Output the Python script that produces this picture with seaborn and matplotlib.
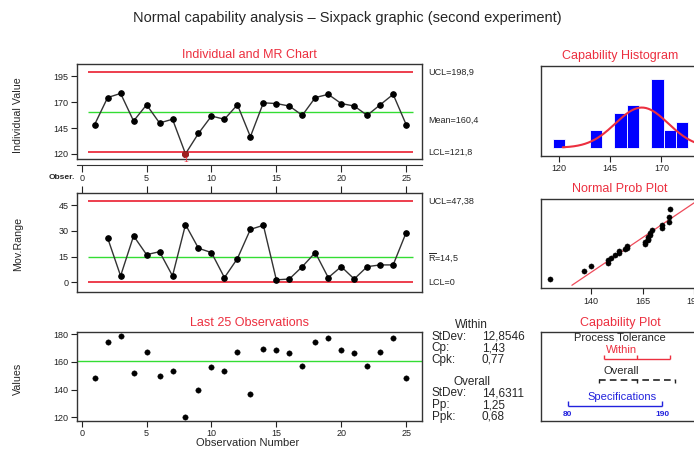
import numpy as np
import seaborn as sns
import matplotlib.pyplot as plt
from statistics import NormalDist

sns.set_style("ticks")
plt.rcParams['font.family'] = ['Liberation Sans', 'DejaVu Sans']
plt.rcParams['mathtext.fontset'] = 'custom'
plt.rcParams['mathtext.rm'] = 'Liberation Sans'
plt.rcParams['mathtext.bf'] = 'Liberation Sans:bold'

# --- data ---
obs = list(range(1, 26))
values = [148.4, 174.5, 178.5, 151.8, 167.5, 149.9, 153.5, 120.0, 139.8, 156.6,
          153.5, 167.5, 136.6, 169.4, 168.7, 166.3, 157.3, 174.5, 177.6, 168.7,
          166.3, 157.3, 167.5, 177.6, 148.4]
mr_obs = list(range(2, 26))
mr_values = [25.8, 3.7, 27.0, 16.1, 17.8, 3.7, 33.6, 19.8, 17.3, 2.7, 13.8, 30.8,
             33.2, 1.4, 1.9, 9.1, 17.3, 2.7, 9.1, 1.9, 9.1, 10.1, 10.1, 28.9]

mean, ucl, lcl = 160.4, 198.9, 121.8
mr_ucl, mr_bar, mr_lcl = 47.38, 14.5, 0.0
sd_within, sd_overall = 12.8546, 14.6311
lsl, usl = 80, 190
hist_bins = list(range(117, 184, 6))

within_stats = [("StDev:", "12,8546"), ("Cp:", "1,43"), ("Cpk:", "0,77")]
overall_stats = [("StDev:", "14,6311"), ("Pp:", "1,25"), ("Ppk:", "0,68")]

RED = '#ec2f3f'
GREEN = '#33dd33'
BLUE = '#0000ff'
W, H = 694, 450

fig = plt.figure(figsize=(W / 100, H / 100), dpi=100)


def box(l, t, r, b):
    ax = fig.add_axes([l / W, 1 - b / H, (r - l) / W, (b - t) / H])
    for s in ax.spines.values():
        s.set_visible(True)
        s.set_color('#333333')
        s.set_linewidth(1.0)
    ax.tick_params(labelsize=6.5, length=4, width=0.8, pad=2, colors='#222222')
    return ax


def ftext(x, y, s, **kw):
    fig.text(x / W, 1 - y / H, s, va='center', **kw)


ftext(347, 18, "Normal capability analysis \u2013 Sixpack graphic (second experiment)",
      ha='center', fontsize=10.5)

# Individual chart
ax1 = box(77, 64, 421.7, 159)
ax1.hlines([ucl, lcl], 0.5, 25.5, color=RED, lw=1.3)
ax1.hlines(mean, 0.5, 25.5, color=GREEN, lw=1)
sns.lineplot(x=obs, y=values, ax=ax1, color='#333333', lw=1, marker='o',
             markersize=4, markeredgecolor='black', markerfacecolor='black')
ax1.plot(obs[7], values[7], 'o', ms=4, color='#a02020')
ax1.annotate('1', (obs[7], values[7]), xytext=(0, -5), textcoords='offset points',
             ha='center', va='center', color=RED, fontsize=6)
ax1.set_xlim(-0.36, 26.2)
ax1.set_ylim(115, 207)
ax1.set_yticks([120, 145, 170, 195])
ax1.tick_params(axis='x', bottom=False, labelbottom=False)
sec = ax1.secondary_xaxis(-6 / 95)
sec.set_xticks(range(0, 26, 5))
sec.tick_params(labelsize=6.5, length=5, width=0.8, pad=1.5)
sec.spines['bottom'].set_color('#333333')
ax1.text(-0.005, -0.19, 'Obser.', transform=ax1.transAxes, ha='right', va='center',
         fontsize=6, fontweight='bold')
yt = ax1.get_yaxis_transform()
ax1.annotate('UCL=198,9', (1.018, ucl), xycoords=yt, va='center', fontsize=6.5)
ax1.annotate('Mean=160,4', (1.018, mean), xycoords=yt, xytext=(0, -6),
             textcoords='offset points', va='center', fontsize=6.5)
ax1.annotate('LCL=121,8', (1.018, lcl), xycoords=yt, va='center', fontsize=6.5)
ftext(249, 55, 'Individual and MR Chart', ha='center', color=RED, fontsize=9)
ftext(18, 115, 'Individual Value', ha='center', rotation=90, fontsize=7.7)

# Moving range chart
ax2 = box(77, 193, 421.7, 291.7)
ax2.hlines([mr_ucl, mr_lcl], 0.5, 25.5, color=RED, lw=1.3)
ax2.hlines(mr_bar, 0.5, 25.5, color=GREEN, lw=1)
sns.lineplot(x=mr_obs, y=mr_values, ax=ax2, color='#333333', lw=1, marker='o',
             markersize=4, markeredgecolor='black', markerfacecolor='black')
ax2.set_xlim(-0.36, 26.2)
ax2.set_ylim(-5.5, 52)
ax2.set_yticks([0, 15, 30, 45])
ax2.set_xticks(range(0, 26, 5))
ax2.tick_params(axis='x', bottom=False, labelbottom=False, top=True, labeltop=False,
                length=5)
yt = ax2.get_yaxis_transform()
ax2.annotate('UCL=47,38', (1.018, mr_ucl), xycoords=yt, va='center', fontsize=6.5)
ax2.annotate(r'$\overline{\mathrm{R}}$=14,5', (1.018, mr_bar), xycoords=yt,
             va='center', fontsize=6.5)
ax2.annotate('LCL=0', (1.018, mr_lcl), xycoords=yt, va='center', fontsize=6.5)
ftext(18, 244, 'Mov.Range', ha='center', rotation=90, fontsize=7.7)

# Last 25 observations
ax3 = box(77, 331.7, 421.7, 421)
ax3.axhline(mean, color=GREEN, lw=1)
sns.scatterplot(x=obs, y=values, ax=ax3, color='black', s=15, edgecolor='black')
ax3.set_xlim(-0.36, 26.2)
ax3.set_ylim(117.3, 181.9)
ax3.set_yticks([120, 140, 160, 180])
ax3.set_xticks(range(0, 26, 5))
ftext(249, 322.7, 'Last 25 Observations', ha='center', color=RED, fontsize=9)
ftext(18, 379, 'Values', ha='center', rotation=90, fontsize=7.7)
ftext(248, 443, 'Observation Number', ha='center', fontsize=8)

# statistics text
ftext(471.7, 325, 'Within', ha='center', fontsize=8.5)
for (lab, val), y in zip(within_stats, [336.7, 348.3, 360]):
    ftext(431.7, y, lab, ha='left', fontsize=8.5)
    ftext(481.7, y, val, ha='left', fontsize=8.5)
ftext(471.7, 381.7, 'Overall', ha='center', fontsize=8.5)
for (lab, val), y in zip(overall_stats, [393.3, 405, 416.7]):
    ftext(431.7, y, lab, ha='left', fontsize=8.5)
    ftext(481.7, y, val, ha='left', fontsize=8.5)

# Capability histogram
ax4 = box(541, 66, 699, 156)
sns.histplot(x=values, bins=hist_bins, ax=ax4, color=BLUE, alpha=1,
             edgecolor='white', linewidth=0.6)
xs = np.linspace(lcl, ucl, 200)
ax4.plot(xs, [len(values) * 6 * NormalDist(mean, sd_within).pdf(v) for v in xs],
         color=RED, lw=1.5)
ax4.set_xlim(111.2, 188.3)
ax4.set_ylim(-0.96, 9.47)
ax4.set_xticks([120, 145, 170])
ax4.set_yticks([])
ax4.set_ylabel('')
ftext(620, 55.7, 'Capability Histogram', ha='center', color=RED, fontsize=9)

# Normal probability plot
ax5 = box(541, 199, 699, 288.3)
n = len(values)
zq = [NormalDist().inv_cdf((i - 0.375) / (n + 0.25)) for i in range(1, n + 1)]
sns.scatterplot(x=sorted(values), y=zq, ax=ax5, color='black', s=14, edgecolor='black',
                zorder=3)
zline = np.array([-2.31, 2.6])
ax5.plot(mean + sd_within * zline, zline, color='#ee4a5a', lw=0.9)
ax5.set_xlim(115.7, 192.4)
ax5.set_ylim(-2.48, 2.52)
ax5.set_xticks([140, 165, 190])
ax5.set_yticks([])
ftext(620, 189.3, 'Normal Prob Plot', ha='center', color=RED, fontsize=9)

# Capability plot
ax6 = box(541, 331.7, 699, 421)
ax6.set_xlim(49, 232.7)
ax6.set_ylim(0, 1)
ax6.set_xticks([])
ax6.set_yticks([])
ax6.text(0.5, 0.935, 'Process Tolerance', transform=ax6.transAxes, ha='center',
         va='center', fontsize=8)
ax6.text(0.51, 0.795, 'Within', transform=ax6.transAxes, ha='center', va='center',
         fontsize=8, color=RED)
wlo, whi = mean - 3 * sd_within, mean + 3 * sd_within
ax6.hlines(0.691, wlo, whi, color=RED, lw=1)
ax6.vlines([wlo, mean, whi], 0.691, 0.74, color=RED, lw=1)
ax6.text(0.51, 0.563, 'Overall', transform=ax6.transAxes, ha='center', va='center',
         fontsize=8)
olo, ohi = mean - 3 * sd_overall, mean + 3 * sd_overall
ax6.hlines(0.459, olo, ohi, color='#222222', lw=1.2, linestyles=(0, (4, 2.5)))
ax6.vlines([olo, mean, ohi], 0.43, 0.475, color='#222222', lw=1)
ax6.text(0.51, 0.272, 'Specifications', transform=ax6.transAxes, ha='center',
         va='center', fontsize=8, color='#2222dd')
ax6.hlines(0.171, lsl, usl, color='#2222dd', lw=1)
ax6.vlines([lsl, usl], 0.171, 0.22, color='#2222dd', lw=1)
for v in (lsl, usl):
    ax6.text(v, 0.075, str(v), ha='center', va='center', fontsize=6,
             fontweight='bold', color='#2222dd')
ftext(620, 322.7, 'Capability Plot', ha='center', color=RED, fontsize=9)

fig.savefig('out.png', dpi=100)
